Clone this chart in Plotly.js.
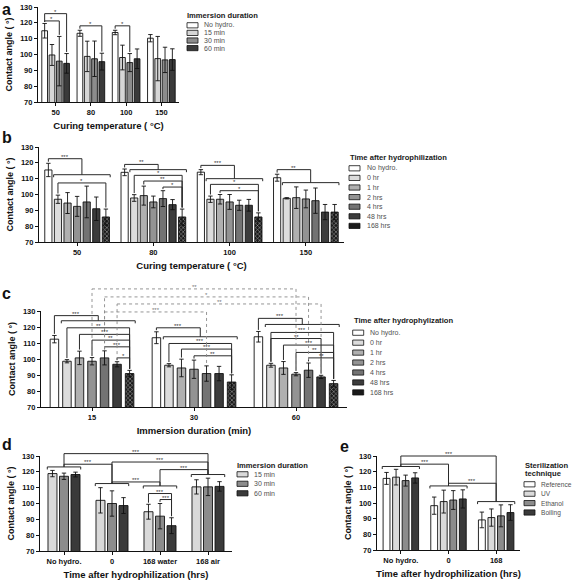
<!DOCTYPE html>
<html><head><meta charset="utf-8">
<script src="https://cdn.plot.ly/plotly-3.0.1.min.js"></script>
<style>html,body{margin:0;padding:0;background:#fff}#chart{width:572px;height:582px}</style>
</head><body><div id="chart"></div>
<script>
// ================= DATA =================
// Panel a
const tempCats = ['50', '80', '100', '150'];
const aSeries = ['No hydro.', '15 min', '30 min', '60 min'];
const aNoHydro = [115.0, 113.4, 113.9, 110.3];
const aNoHydroErr = [4.6, 1.9, 1.4, 2.3];
const a15 = [99.7, 98.8, 98.1, 97.4];
const a15Err = [6.6, 9.6, 7.8, 14.0];
const a30 = [95.8, 97.3, 94.9, 96.6];
const a30Err = [15.6, 11.2, 5.7, 8.0];
const a60 = [94.4, 95.5, 97.3, 96.8];
const a60Err = [6.2, 5.3, 6.2, 6.8];

// Panel b
const hydroSeries = ['No hydro.', '0 hr', '1 hr', '2 hrs', '4 hrs', '48 hrs', '168 hrs'];
const bNoHydro = [115.5, 114.0, 114.1, 110.6];
const bNoHydroErr = [4.2, 2.1, 1.6, 2.2];
const b0 = [97.0, 97.8, 97.0, 97.6];
const b0Err = [2.6, 2.1, 2.0, 0.4];
const b1 = [94.6, 99.3, 97.0, 98.0];
const b1Err = [6.6, 6.0, 3.0, 6.8];
const b2 = [92.5, 95.3, 95.3, 97.2];
const b2Err = [6.3, 3.7, 4.7, 5.6];
const b4 = [95.3, 97.4, 93.2, 96.1];
const b4Err = [10.0, 5.0, 3.2, 8.0];
const b48 = [91.0, 93.6, 93.2, 88.9];
const b48Err = [7.4, 3.2, 3.7, 4.8];
const b168 = [85.8, 85.8, 85.8, 88.9];
const b168Err = [5.0, 5.0, 2.6, 4.8];

// Panel c
const durCats = ['15', '30', '60'];
const cNoHydro = [112.4, 113.3, 113.9];
const cNoHydroErr = [2.3, 3.7, 3.3];
const c0 = [98.6, 96.1, 96.1];
const c0Err = [1.0, 1.0, 1.2];
const c1 = [100.7, 94.4, 94.4];
const c1Err = [4.2, 5.5, 4.0];
const c2 = [98.6, 93.6, 90.5];
const c2Err = [2.3, 5.7, 1.0];
const c4 = [100.7, 90.9, 93.0];
const c4Err = [4.4, 4.8, 4.5];
const c48 = [96.7, 90.9, 88.8];
const c48Err = [1.6, 4.5, 1.0];
const c168 = [90.9, 85.6, 84.6];
const c168Err = [2.0, 4.5, 2.0];

// Panel d
const dCats = ['No hydro.', '0', '168 water', '168 air'];
const dSeries = ['15 min', '30 min', '60 min'];
const d15 = [118.9, 102.0, 94.8, 110.5];
const d15Err = [2.0, 8.0, 4.7, 4.5];
const d30 = [117.2, 100.0, 92.0, 110.5];
const d30Err = [2.0, 8.0, 8.0, 5.5];
const d60 = [118.3, 98.7, 86.0, 110.8];
const d60Err = [1.5, 5.0, 5.0, 3.0];

// Panel e
const eCats = ['No hydro.', '0', '168'];
const eSeries = ['Reference', 'UV', 'Ethanol', 'Boiling'];
const eRef = [115.7, 98.3, 89.2];
const eRefErr = [3.8, 5.5, 5.0];
const eUV = [116.5, 100.9, 90.7];
const eUVErr = [5.0, 7.3, 5.5];
const eEth = [114.3, 101.9, 91.8];
const eEthErr = [3.5, 6.0, 7.0];
const eBoil = [116.0, 102.6, 93.9];
const eBoilErr = [3.3, 5.8, 5.0];

// ================= STYLE / GEOMETRY =================
const W = 572, H = 582;
const FONT = 'Liberation Sans, Arial, Helvetica, sans-serif';
const P = {
  a: {ax: 1, x0: 38, x1: 179, yt: 7, yb: 102, n: 4, gap: 0.17, ggap: 0.22},
  b: {ax: 2, x0: 39, x1: 344, yt: 147, yb: 242, n: 4, gap: 0.12, ggap: 0.25},
  c: {ax: 3, x0: 41, x1: 347, yt: 311, yb: 407, n: 3, gap: 0.14, ggap: 0.32},
  d: {ax: 4, x0: 40, x1: 232, yt: 456, yb: 551, n: 4, gap: 0.28, ggap: 0.22},
  e: {ax: 5, x0: 377, x1: 520, yt: 456, yb: 550, n: 3, gap: 0.2, ggap: 0.28}
};
const hydroColors = ['#ffffff', '#dcdcdc', '#b0b0b0', '#939393', '#737373', '#3c3c3c', '#1a1a1a'];
const aColors = ['#ffffff', '#d6d6d6', '#8c8c8c', '#3a3a3a'];
const dColors = ['#d9d9d9', '#8c8c8c', '#3a3a3a'];
const eColors = ['#ffffff', '#dadada', '#8c8c8c', '#3a3a3a'];

const traces = [], shapes = [], annotations = [];
const axId = n => (n === 1 ? '' : String(n));

function setup(p, ns) { p.ns = ns; p.gw = 1 - p.gap; p.slot = p.gw / ns; p.w = p.slot * (1 - p.ggap); }
function barX(p, g, k) { return g - p.gw / 2 + (k + 0.5) * p.slot; }
function PX(p, v) { return (p.x0 + (v + 0.5) / p.n * (p.x1 - p.x0)) / W; }
function PY(p, v) { return 1 - (p.yt + (130 - v) / 60 * (p.yb - p.yt)) / H; }

function addBars(p, cats, names, vals, errs, colors, patternLast) {
  setup(p, names.length);
  names.forEach((nm, k) => {
    const marker = {color: colors[k], line: {color: '#111', width: 0.9}};
    if (patternLast && k === names.length - 1) {
      marker.pattern = {shape: 'x', fgcolor: '#9a9a9a', bgcolor: '#1a1a1a', size: 3, solidity: 0.35};
    }
    traces.push({
      type: 'bar', name: nm, x: cats, y: vals[k],
      xaxis: 'x' + axId(p.ax), yaxis: 'y' + axId(p.ax),
      offset: -p.gw / 2 + k * p.slot + (p.slot - p.w) / 2, width: p.w,
      marker: marker,
      error_y: {type: 'data', array: errs[k], visible: true, color: '#111', thickness: 0.9, width: 2.2},
      showlegend: false, hoverinfo: 'skip'
    });
  });
  p.vals = vals; p.errs = errs;
}

function seg(p, xa, ya, xb, yb, dotted) {
  shapes.push({type: 'line', xref: 'paper', yref: 'paper',
    x0: PX(p, xa), y0: PY(p, ya), x1: PX(p, xb), y1: PY(p, yb),
    line: {color: dotted ? '#8a8a8a' : '#2a2a2a', width: dotted ? 0.9 : 1, dash: dotted ? 'dot' : 'solid'}});
}
function star(p, x, y, txt, dotted) {
  annotations.push({xref: 'paper', yref: 'paper', x: PX(p, x), y: PY(p, y), text: txt, showarrow: false,
    xanchor: 'center', yanchor: 'bottom', yshift: -3,
    font: {family: FONT, size: 6, color: dotted ? '#777' : '#333'}});
}
function errTop(p, g, k) { return p.vals[k][g] + p.errs[k][g] + 1; }
function pair(p, g, ka, kb, lvl, txt) {
  const xa = barX(p, g, ka), xb = barX(p, g, kb);
  seg(p, xa, errTop(p, g, ka), xa, lvl); seg(p, xa, lvl, xb, lvl); seg(p, xb, lvl, xb, errTop(p, g, kb));
  star(p, (xa + xb) / 2, lvl, txt);
}
function crossPair(p, ga, ka, gb, kb, lvl, txt) {
  const xa = barX(p, ga, ka), xb = barX(p, gb, kb);
  seg(p, xa, errTop(p, ga, ka), xa, lvl, true); seg(p, xa, lvl, xb, lvl, true); seg(p, xb, lvl, xb, errTop(p, gb, kb), true);
  star(p, (xa + xb) / 2, lvl, txt, true);
}
function groupLine(p, g, ka, kb, lvl) {
  const xa = barX(p, g, ka) - p.slot * 0.45, xb = barX(p, g, kb) + p.slot * 0.45;
  seg(p, xa, lvl - 1.6, xa, lvl); seg(p, xa, lvl, xb, lvl); seg(p, xb, lvl, xb, lvl - 1.6);
}
function connector(p, xa, ya, xb, yb, lvl, txt) {
  seg(p, xa, ya, xa, lvl); seg(p, xa, lvl, xb, lvl); seg(p, xb, lvl, xb, yb);
  star(p, (xa + xb) / 2, lvl, txt);
}
// control (k=0) vs all others in group g
function controlVsRest(p, g, l1, l2, txt) {
  const last = p.ns - 1;
  groupLine(p, g, 1, last, l2);
  const mid = (barX(p, g, 1) + barX(p, g, last)) / 2;
  connector(p, barX(p, g, 0), errTop(p, g, 0), mid, l2, l1, txt);
}
function betweenGroups(p, ga, la, gb, lb, lvl, txt) { connector(p, ga, la, gb, lb, lvl, txt); }

// ================= BARS =================
addBars(P.a, tempCats, aSeries, [aNoHydro, a15, a30, a60], [aNoHydroErr, a15Err, a30Err, a60Err], aColors, false);
addBars(P.b, tempCats, hydroSeries, [bNoHydro, b0, b1, b2, b4, b48, b168],
  [bNoHydroErr, b0Err, b1Err, b2Err, b4Err, b48Err, b168Err], hydroColors, true);
addBars(P.c, durCats, hydroSeries, [cNoHydro, c0, c1, c2, c4, c48, c168],
  [cNoHydroErr, c0Err, c1Err, c2Err, c4Err, c48Err, c168Err], hydroColors, true);
addBars(P.d, dCats, dSeries, [d15, d30, d60], [d15Err, d30Err, d60Err], dColors, false);
addBars(P.e, eCats, eSeries, [eRef, eUV, eEth, eBoil], [eRefErr, eUVErr, eEthErr, eBoilErr], eColors, false);

// ================= SIGNIFICANCE =================
// a
pair(P.a, 0, 0, 2, 121.2, '*');
pair(P.a, 0, 0, 3, 125.8, '*');
pair(P.a, 1, 0, 3, 118.1, '*');
pair(P.a, 2, 0, 2, 118.1, '*');
// b
controlVsRest(P.b, 0, 122.6, 112.5, '***');
pair(P.b, 0, 1, 6, 107.3, '*');
controlVsRest(P.b, 1, 119.0, 115.7, '**');
pair(P.b, 1, 1, 6, 112.1, '*');
pair(P.b, 1, 2, 6, 108.5, '**');
pair(P.b, 1, 4, 6, 104.7, '*');
controlVsRest(P.b, 2, 118.4, 110.0, '***');
pair(P.b, 2, 1, 6, 106.4, '*');
pair(P.b, 2, 2, 6, 102.4, '*');
controlVsRest(P.b, 3, 115.7, 107.5, '**');
// c
controlVsRest(P.c, 0, 127.1, 123.9, '***');
pair(P.c, 0, 1, 6, 119.5, '**');
pair(P.c, 0, 2, 6, 115.4, '***');
pair(P.c, 0, 3, 6, 111.8, '**');
pair(P.c, 0, 4, 6, 107.6, '***');
pair(P.c, 0, 5, 6, 100.7, '*');
controlVsRest(P.c, 1, 119.5, 113.9, '***');
pair(P.c, 1, 1, 6, 109.7, '***');
pair(P.c, 1, 2, 6, 106.2, '***');
pair(P.c, 1, 3, 6, 102.0, '**');
controlVsRest(P.c, 2, 125.4, 121.6, '***');
pair(P.c, 2, 1, 6, 116.6, '***');
pair(P.c, 2, 1, 5, 112.8, '**');
pair(P.c, 2, 2, 6, 108.7, '***');
pair(P.c, 2, 3, 6, 104.1, '**');
pair(P.c, 2, 4, 6, 100.7, '**');
crossPair(P.c, 0, 3, 2, 3, 143.8, '**');
crossPair(P.c, 0, 4, 2, 4, 138.8, '*');
crossPair(P.c, 0, 5, 2, 5, 134.4, '**');
crossPair(P.c, 0, 4, 1, 4, 129.4, '***');
// d
const dGroupLvl = [123.1, 112.6, 111.1, 118.3];
dGroupLvl.forEach((l, g) => groupLine(P.d, g, 0, 2, l));
betweenGroups(P.d, 0, dGroupLvl[0], 3, dGroupLvl[3], 131.5, '***');
betweenGroups(P.d, 1, dGroupLvl[1], 3, dGroupLvl[3], 126.2, '***');
betweenGroups(P.d, 0, dGroupLvl[0], 1, dGroupLvl[1], 124.8, '***');
betweenGroups(P.d, 2, dGroupLvl[2], 3, dGroupLvl[3], 121.4, '***');
betweenGroups(P.d, 1, dGroupLvl[1], 2, dGroupLvl[2], 113.6, '***');
pair(P.d, 2, 0, 2, 106.3, '***');
pair(P.d, 2, 1, 2, 102.5, '***');
// e
const eGroupLvl = [123.3, 110.9, 100.9];
eGroupLvl.forEach((l, g) => groupLine(P.e, g, 0, 3, l));
betweenGroups(P.e, 0, eGroupLvl[0], 2, eGroupLvl[2], 130.0, '***');
betweenGroups(P.e, 0, eGroupLvl[0], 1, eGroupLvl[1], 124.8, '***');
betweenGroups(P.e, 1, eGroupLvl[1], 2, eGroupLvl[2], 112.6, '***');

// ================= LEGENDS (drawn manually) =================
function legend(titleLines, names, colors, tx, ty, sx, lx, y0, dy, fs) {
  titleLines.forEach((t, i) => annotations.push({xref: 'paper', yref: 'paper', x: tx / W, y: 1 - (ty + i * 8.5) / H,
    text: t, showarrow: false, xanchor: 'left', yanchor: 'middle',
    font: {family: FONT, size: 7.6, weight: 'bold', color: '#1a1a1a'}}));
  names.forEach((nm, k) => {
    const yc = y0 + k * dy;
    shapes.push({type: 'rect', xref: 'paper', yref: 'paper', x0: sx / W, x1: (sx + 11) / W,
      y0: 1 - (yc - 2.6) / H, y1: 1 - (yc + 2.6) / H, fillcolor: colors[k], line: {color: '#111', width: 0.8}});
    annotations.push({xref: 'paper', yref: 'paper', x: lx / W, y: 1 - yc / H, text: nm, showarrow: false,
      xanchor: 'left', yanchor: 'middle', font: {family: FONT, size: fs || 7, color: '#505050'}});
  });
}
legend(['Immersion duration'], aSeries, aColors, 185, 15.7, 187, 202, 25.3, 7.6);
legend(['Time after hydrophilization'], hydroSeries, hydroColors, 348, 157.3, 349, 365, 168.3, 9.6);
legend(['Time after hydrophylization'], hydroSeries, hydroColors, 351.5, 320.7, 352.7, 368, 332.7, 9.95);
legend(['Immersion duration'], dSeries, dColors, 235, 465, 237, 252, 474.3, 9.5);
legend(['Sterilization', 'technique'], eSeries, eColors, 523, 465, 524, 539, 484.3, 9.4, 6.6);

// panel letters
[['a', 1, 0, 'top'], ['b', 1, 137, 'middle'], ['c', 1, 293, 'middle'], ['d', 1, 445, 'middle'], ['e', 339, 446, 'middle']]
  .forEach(([t, x, y, anc]) =>
  annotations.push({xref: 'paper', yref: 'paper', x: x / W, y: 1 - y / H, text: t, showarrow: false,
    xanchor: 'left', yanchor: anc, borderpad: 0, font: {family: FONT, size: 16, weight: 'bold', color: '#111'}}));

// ================= AXES =================
const layout = {
  width: W, height: H, margin: {l: 0, r: 0, t: 0, b: 0},
  paper_bgcolor: '#fff', plot_bgcolor: 'rgba(0,0,0,0)',
  barmode: 'overlay', showlegend: false,
  font: {family: FONT, color: '#111'},
  shapes: shapes, annotations: annotations
};
const xTitles = {a: 'Curing temperature ( °C)', b: 'Curing temperature ( °C)', c: 'Immersion duration (min)',
  d: 'Time after hydrophilization (hrs)', e: 'Time after hydrophilization (hrs)'};
Object.keys(P).forEach(key => {
  const p = P[key], id = axId(p.ax);
  const common = {showline: true, linecolor: '#111', linewidth: 1.1, ticks: 'outside', ticklen: 3, tickwidth: 1,
    tickcolor: '#111', showgrid: false, zeroline: false, fixedrange: true,
    tickfont: {family: FONT, size: 7.5, weight: 'bold', color: '#111'}};
  layout['xaxis' + id] = Object.assign({}, common, {
    type: 'category', domain: [p.x0 / W, p.x1 / W], anchor: 'y' + id, range: [-0.5, p.n - 0.5],
    title: {text: xTitles[key], font: {family: FONT, size: 9.5, weight: 'bold', color: '#111'}, standoff: 6}
  });
  layout['yaxis' + id] = Object.assign({}, common, {
    domain: [1 - p.yb / H, 1 - p.yt / H], anchor: 'x' + id, range: [70, 130],
    tickvals: [70, 80, 90, 100, 110, 120, 130],
    title: {text: 'Contact angle ( °)', font: {family: FONT, size: 9, weight: 'bold', color: '#111'}, standoff: 5}
  });
});

Plotly.newPlot('chart', traces, layout, {staticPlot: true, displayModeBar: false});
</script></body></html>
